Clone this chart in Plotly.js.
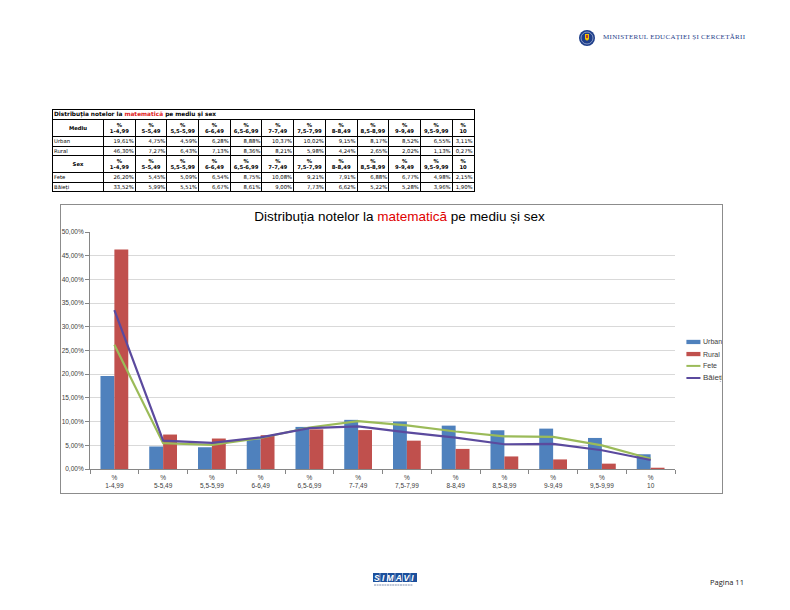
<!DOCTYPE html>
<html><head><meta charset="utf-8">
<script src="https://cdn.plot.ly/plotly-3.0.1.min.js"></script>
<style>
body{margin:0;width:790px;height:610px;background:#fff;position:relative;overflow:hidden;font-family:"Liberation Sans",Arial,sans-serif;}
#tbl{position:absolute;left:52px;top:109px;border-collapse:collapse;table-layout:fixed;font-family:"DejaVu Sans",sans-serif;font-size:5.3px;color:#000;border:1.5px solid #000;}
#tbl td{border:1px solid #000;padding:0 1px;overflow:hidden;white-space:nowrap;line-height:6.5px;}
#tbl td.num{text-align:right;}
#tbl td.hdr{text-align:center;font-weight:bold;}
#tbl td.lab{text-align:left;}
#tbl td.ttl{font-weight:bold;text-align:left;font-size:5.8px;}
#chart{position:absolute;left:60px;top:204px;width:663px;height:290px;}
#frame{position:absolute;left:60px;top:204px;width:663px;height:290px;border:1px solid #8c8c8c;box-sizing:border-box;pointer-events:none;}
#mlogo{position:absolute;left:578px;top:29px;}
#mtext{position:absolute;left:603px;top:33px;font-family:"Liberation Serif",serif;font-size:7px;color:#1e3e8a;letter-spacing:0.3px;white-space:nowrap;}
#simavi{position:absolute;left:373px;top:573px;}
#page{position:absolute;left:710px;top:577px;font-family:"Open Sans","Liberation Sans",sans-serif;font-size:7.5px;color:#222;}
</style></head>
<body>
<svg id="mlogo" width="18" height="18" viewBox="0 0 18 18">
<circle cx="9" cy="9" r="8" fill="#1e3e8a"/>
<circle cx="9" cy="9" r="6" fill="none" stroke="#c9d3ea" stroke-width="0.6"/>
<path d="M7 5 L11 5 L11 10 Q9 13 7 10 Z" fill="#f2c400"/>
<path d="M8 6 L10 6 L10 9 L8 9 Z" fill="#c0392b"/>
</svg>
<div id="mtext">MINISTERUL EDUCAȚIEI ȘI CERCETĂRII</div>
<table id="tbl"></table>
<div id="chart"></div>
<div id="frame"></div>
<svg id="simavi" width="44" height="15" viewBox="0 0 44 15">
<rect x="0" y="0" width="44" height="9" fill="#1b4f9c"/>
<text x="22" y="7.6" text-anchor="middle" font-family="Liberation Sans" font-style="italic" font-weight="bold" font-size="8.5" fill="#fff" letter-spacing="2.2">SIMAVI</text>
<line x1="7" y1="0" x2="7" y2="9" stroke="#fff" stroke-width="0.5"/>
<line x1="14.5" y1="0" x2="14.5" y2="9" stroke="#fff" stroke-width="0.5"/>
<line x1="22" y1="0" x2="22" y2="9" stroke="#fff" stroke-width="0.5"/>
<line x1="29.5" y1="0" x2="29.5" y2="9" stroke="#fff" stroke-width="0.5"/>
<line x1="37" y1="0" x2="37" y2="9" stroke="#fff" stroke-width="0.5"/>
<line x1="1" y1="12" x2="40" y2="12" stroke="#7f8fb0" stroke-width="1" stroke-dasharray="2 0.6"/>
</svg>
<div id="page">Pagina 11</div>
<script>
const categories = ['1-4,99','5-5,49','5,5-5,99','6-6,49','6,5-6,99','7-7,49','7,5-7,99','8-8,49','8,5-8,99','9-9,49','9,5-9,99','10'];
const urban  = [19.61, 4.75, 4.59, 6.28, 8.88, 10.37, 10.02, 9.15, 8.17, 8.52, 6.55, 3.11];
const rural  = [46.30, 7.27, 6.43, 7.13, 8.36, 8.21, 5.98, 4.24, 2.65, 2.02, 1.13, 0.27];
const fete   = [26.20, 5.45, 5.09, 6.54, 8.75, 10.08, 9.21, 7.91, 6.88, 6.77, 4.98, 2.15];
const baieti = [33.52, 5.99, 5.51, 6.67, 8.61, 9.00, 7.73, 6.62, 5.22, 5.28, 3.96, 1.90];
const seriesNames = ['Urban','Rural','Fete','Băieți'];
const tableTitleA = 'Distribuția notelor la ';
const tableTitleRed = 'matematică';
const tableTitleB = ' pe mediu și sex';
const groupLabels = ['Mediu','Sex'];

const colors = {Urban:'#4f81bd', Rural:'#c0504d', Fete:'#9bbb59', 'Băieți':'#5b4a9e'};

// ---- table ----
const fmt = v => v.toFixed(2).replace('.', ',') + '%';
const tbl = document.getElementById('tbl');
const colW = [51].concat(categories.map((c,i)=> i===categories.length-1 ? 22 : 31.7));
let html = '<colgroup>' + colW.map(w=>'<col style="width:'+w+'px">').join('') + '</colgroup>';
html += '<tr style="height:10px"><td class="ttl" colspan="'+(categories.length+1)+'">'+tableTitleA+'<span style="color:#e02020">'+tableTitleRed+'</span>'+tableTitleB+'</td></tr>';
const hdrRow = lab => '<tr style="height:17px"><td class="hdr">'+lab+'</td>' + categories.map(c=>'<td class="hdr">%<br>'+c+'</td>').join('') + '</tr>';
const dataRow = (lab, arr, h) => '<tr style="height:'+h+'px"><td class="lab">'+lab+'</td>' + arr.map(v=>'<td class="num">'+fmt(v)+'</td>').join('') + '</tr>';
html += hdrRow(groupLabels[0]);
html += dataRow(seriesNames[0], urban, 10);
html += dataRow(seriesNames[1], rural, 9);
html += hdrRow(groupLabels[1]);
html += dataRow(seriesNames[2], fete, 10);
html += dataRow(seriesNames[3], baieti, 9);
tbl.innerHTML = html;

// ---- chart ----
const xcats = categories.map(c => '%<br>' + c);
const traces = [
  {type:'bar', name:seriesNames[0], x:xcats, y:urban, marker:{color:colors.Urban}},
  {type:'bar', name:seriesNames[1], x:xcats, y:rural, marker:{color:colors.Rural}},
  {type:'scatter', mode:'lines', name:seriesNames[2], x:xcats, y:fete, line:{color:colors.Fete, width:2.2}},
  {type:'scatter', mode:'lines', name:seriesNames[3], x:xcats, y:baieti, line:{color:colors['Băieți'], width:2.2}}
];

// custom legend (shapes + annotations), in paper coordinates
const legY = [0.536, 0.485, 0.435, 0.384];
const shapes = [], annotations = [];
seriesNames.forEach((n,i)=>{
  if (i < 2) {
    shapes.push({type:'rect', xref:'paper', yref:'paper', x0:1.0195, x1:1.0435, y0:legY[i]-0.009, y1:legY[i]+0.009, fillcolor:colors[n], line:{width:0}});
  } else {
    shapes.push({type:'line', xref:'paper', yref:'paper', x0:1.0195, x1:1.0435, y0:legY[i], y1:legY[i], line:{color:colors[n], width:2}});
  }
  annotations.push({xref:'paper', yref:'paper', x:1.044, y:legY[i], xanchor:'left', yanchor:'middle', showarrow:false, text:n,
    font:{family:'Liberation Sans, Arial, sans-serif', size: i===3 ? 8 : 7, color:'#404040'}});
});

const layout = {
  width:663, height:290,
  margin:{l:30, r:48, t:28, b:25, pad:0},
  paper_bgcolor:'rgba(0,0,0,0)', plot_bgcolor:'#fff',
  separators:',.',
  showlegend:false,
  barmode:'group', bargap:0.43, bargroupgap:0,
  title:{text:'Distribuția notelor la <span style="color:#e00000">matematică</span> pe mediu și sex',
    font:{family:'Liberation Sans, Arial, sans-serif', size:13.5, color:'#000'},
    xref:'paper', x:0.529, xanchor:'center', yref:'container', y:0.959, yanchor:'middle'},
  xaxis:{type:'category', tickson:'boundaries', ticks:'outside', ticklen:4, tickcolor:'#868686',
    showline:true, linecolor:'#868686', linewidth:1, showgrid:false, automargin:false, ticklabelstandoff:2,
    tickfont:{family:'Liberation Sans, Arial, sans-serif', size:6.5, color:'#404040'}, fixedrange:true},
  yaxis:{range:[0,50], dtick:5, tick0:0, tickformat:'.2f', ticksuffix:'%', ticks:'outside', ticklen:4, tickcolor:'#868686',
    showline:true, linecolor:'#868686', linewidth:1, showgrid:true, gridcolor:'#d9d9d9', gridwidth:1, zeroline:false, automargin:false,
    tickfont:{family:'Liberation Sans, Arial, sans-serif', size:6.5, color:'#404040'}, fixedrange:true},
  shapes:shapes, annotations:annotations
};
Plotly.newPlot('chart', traces, layout, {staticPlot:true, displayModeBar:false});
</script>
</body></html>
